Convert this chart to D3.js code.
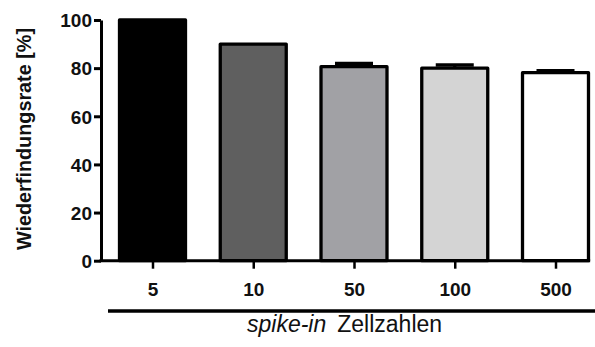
<!DOCTYPE html>
<html>
<head>
<meta charset="utf-8">
<script src="https://cdn.jsdelivr.net/npm/d3@7"></script>
<style>
  html, body { margin: 0; padding: 0; background: #fff; }
  svg { display: block; }
  text { font-family: "Liberation Sans", Arial, Helvetica, sans-serif; fill: #111; }
</style>
</head>
<body>
<script>
// Recovery rate per spike-in cell count (mean, upper error)
const categories = ["5", "10", "50", "100", "500"];
const means = [100, 90, 80.6, 80, 78.1];
const errors = [0, 0, 1.4, 1.3, 0.9];
const fills = ["#000000", "#5f5f5f", "#a1a1a5", "#d4d4d4", "#ffffff"];
const yTicks = [0, 20, 40, 60, 80, 100];

const W = 595, H = 347;
const svg = d3.select("body").append("svg")
  .attr("width", W).attr("height", H);

const axisX = 101;          // position of the y axis line
const x = d3.scalePoint().domain(categories).range([152.5, 555.5]);
const barW = x.step() * 0.655;
const y = d3.scaleLinear().domain([0, 100]).range([260.7, 20]);
const sw = 3.3;

// Bars
svg.append("g").selectAll("rect")
  .data(categories)
  .join("rect")
  .attr("x", d => x(d) - barW / 2)
  .attr("y", (d, i) => y(means[i]))
  .attr("width", barW)
  .attr("height", (d, i) => y(0) - y(means[i]))
  .attr("fill", (d, i) => fills[i])
  .attr("stroke", "#000")
  .attr("stroke-width", sw)
  .attr("stroke-linejoin", "round");

// Upper error bars
const capW = 38;
const eb = svg.append("g").selectAll("g")
  .data(categories.filter((d, i) => errors[i] > 0))
  .join("g");
eb.append("line")
  .attr("x1", d => x(d)).attr("x2", d => x(d))
  .attr("y1", d => y(means[categories.indexOf(d)]))
  .attr("y2", d => { const i = categories.indexOf(d); return y(means[i] + errors[i]); })
  .attr("stroke", "#000").attr("stroke-width", sw);
eb.append("line")
  .attr("x1", d => x(d) - capW / 2).attr("x2", d => x(d) + capW / 2)
  .attr("y1", d => { const i = categories.indexOf(d); return y(means[i] + errors[i]); })
  .attr("y2", d => { const i = categories.indexOf(d); return y(means[i] + errors[i]); })
  .attr("stroke", "#000").attr("stroke-width", sw);

// Y axis
const yAxis = svg.append("g")
  .attr("transform", `translate(${axisX},0)`)
  .call(d3.axisLeft(y).tickValues(yTicks).tickSize(7).tickSizeOuter(0).tickPadding(2));
yAxis.select(".domain").attr("stroke", "#000").attr("stroke-width", 3);
yAxis.selectAll(".tick line").attr("stroke", "#000").attr("stroke-width", 3);
yAxis.selectAll(".tick text")
  .style("font-family", "'Liberation Sans', Arial, sans-serif")
  .style("font-size", "19px").style("font-weight", "bold").attr("fill", "#111")
  .attr("dy", "0.36em");

// X axis baseline and ticks
const lastRight = x(categories[categories.length - 1]) + barW / 2 + sw / 2;
svg.append("line")
  .attr("x1", axisX - 1.5).attr("x2", lastRight)
  .attr("y1", y(0)).attr("y2", y(0))
  .attr("stroke", "#000").attr("stroke-width", 3);
const xAxis = svg.append("g")
  .attr("transform", `translate(0,${y(0)})`)
  .call(d3.axisBottom(x).tickSize(8).tickSizeOuter(0).tickPadding(14));
xAxis.select(".domain").remove();
xAxis.selectAll(".tick line").attr("stroke", "#000").attr("stroke-width", 2.5);
xAxis.selectAll(".tick text")
  .style("font-family", "'Liberation Sans', Arial, sans-serif")
  .style("font-size", "19px").style("font-weight", "bold").attr("fill", "#111");

// Grouping line under the categories
svg.append("line")
  .attr("x1", 108).attr("x2", W + 2)
  .attr("y1", 311).attr("y2", 311)
  .attr("stroke", "#000").attr("stroke-width", 3.3);

// X axis title
const xt = svg.append("text")
  .attr("x", 247).attr("y", 331.5)
  .style("font-size", "23px");
xt.append("tspan").style("font-style", "italic").text("spike-in");
xt.append("tspan").attr("dx", 11).text("Zellzahlen");

// Y axis title
svg.append("text")
  .attr("transform", "translate(31,139) rotate(-90)")
  .attr("text-anchor", "middle")
  .attr("textLength", 222)
  .attr("lengthAdjust", "spacingAndGlyphs")
  .style("font-size", "21px").style("font-weight", "bold")
  .text("Wiederfindungsrate [%]");
</script>
</body>
</html>
